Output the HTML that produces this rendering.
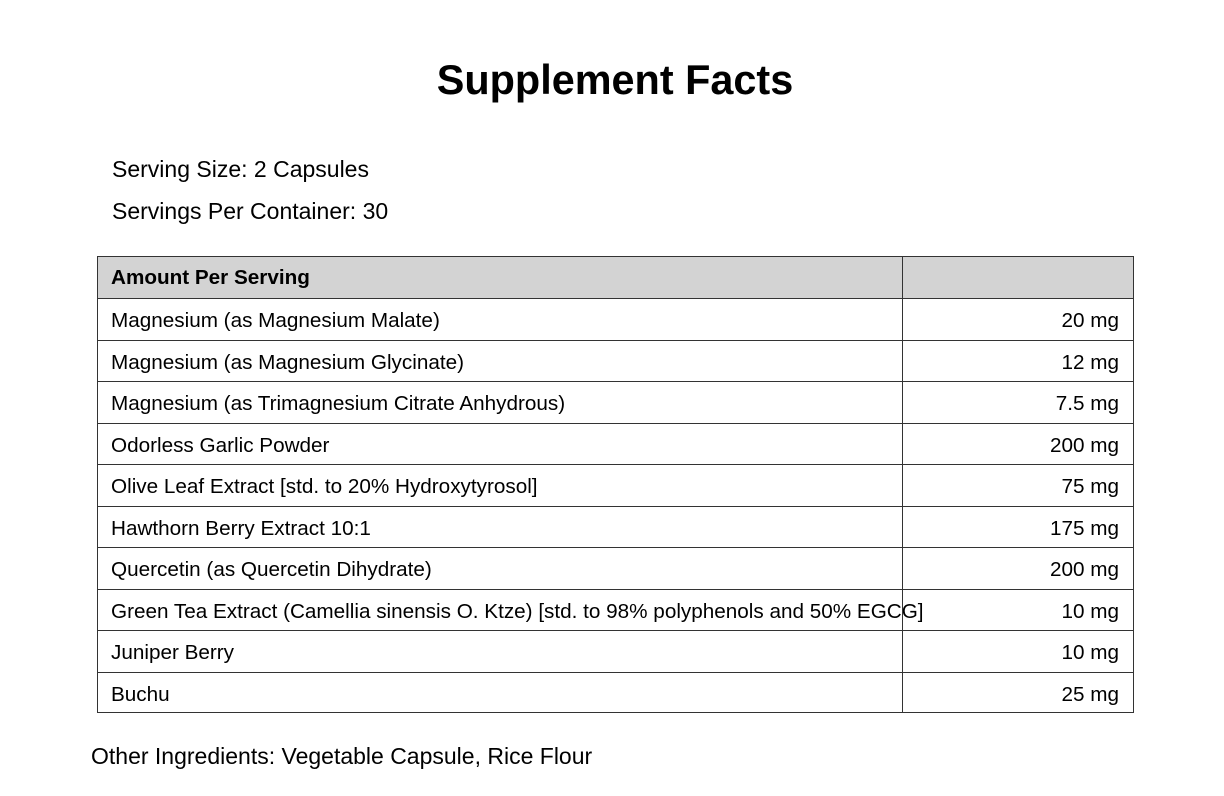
<!DOCTYPE html>
<html><head><meta charset="utf-8"><style>
body{margin:0;width:1224px;height:796px;background:#fff;font-family:"Liberation Sans",Arial,sans-serif;color:#000;position:relative;overflow:hidden}
.a{position:absolute;white-space:nowrap}
.row{position:absolute;left:97px;width:1036px;height:41.45px;border-top:1px solid #333;box-sizing:border-box}
.row .l{position:absolute;left:14px;top:1px;line-height:41px;font-size:20.7px;white-space:nowrap}
.row .r{position:absolute;right:14px;top:1px;line-height:41px;font-size:20.7px;white-space:nowrap}
</style></head><body>
<div class="a" style="left:0;width:1230px;text-align:center;top:57px;font-size:41.4px;font-weight:bold">Supplement Facts</div>
<div class="a" style="left:112px;top:156px;font-size:23px">Serving Size: 2 Capsules</div>
<div class="a" style="left:112px;top:198px;font-size:23px">Servings Per Container: 30</div>
<div style="position:absolute;left:97px;top:256px;width:1037px;height:457px;border:1px solid #333;box-sizing:border-box"></div>
<div style="position:absolute;left:98px;top:257px;width:1035px;height:41px;background:#d3d3d3"></div>
<div class="row" style="top:256px;border-top:none"><span class="l" style="font-weight:bold">Amount Per Serving</span></div>
<div class="row" style="top:298px"><span class="l">Magnesium (as Magnesium Malate)</span><span class="r">20 mg</span></div>
<div class="row" style="top:339.5px"><span class="l">Magnesium (as Magnesium Glycinate)</span><span class="r">12 mg</span></div>
<div class="row" style="top:381px"><span class="l">Magnesium (as Trimagnesium Citrate Anhydrous)</span><span class="r">7.5 mg</span></div>
<div class="row" style="top:422.5px"><span class="l">Odorless Garlic Powder</span><span class="r">200 mg</span></div>
<div class="row" style="top:464px"><span class="l">Olive Leaf Extract [std. to 20% Hydroxytyrosol]</span><span class="r">75 mg</span></div>
<div class="row" style="top:505.5px"><span class="l">Hawthorn Berry Extract 10:1</span><span class="r">175 mg</span></div>
<div class="row" style="top:547px"><span class="l">Quercetin (as Quercetin Dihydrate)</span><span class="r">200 mg</span></div>
<div class="row" style="top:588.5px"><span class="l">Green Tea Extract (Camellia sinensis O. Ktze) [std. to 98% polyphenols and 50% EGCG]</span><span class="r">10 mg</span></div>
<div class="row" style="top:630px"><span class="l">Juniper Berry</span><span class="r">10 mg</span></div>
<div class="row" style="top:671.5px"><span class="l">Buchu</span><span class="r">25 mg</span></div>
<div style="position:absolute;left:902px;top:256px;width:1px;height:457px;background:#333"></div>
<div class="a" style="left:91px;top:743px;font-size:23px">Other Ingredients: Vegetable Capsule, Rice Flour</div>
</body></html>
